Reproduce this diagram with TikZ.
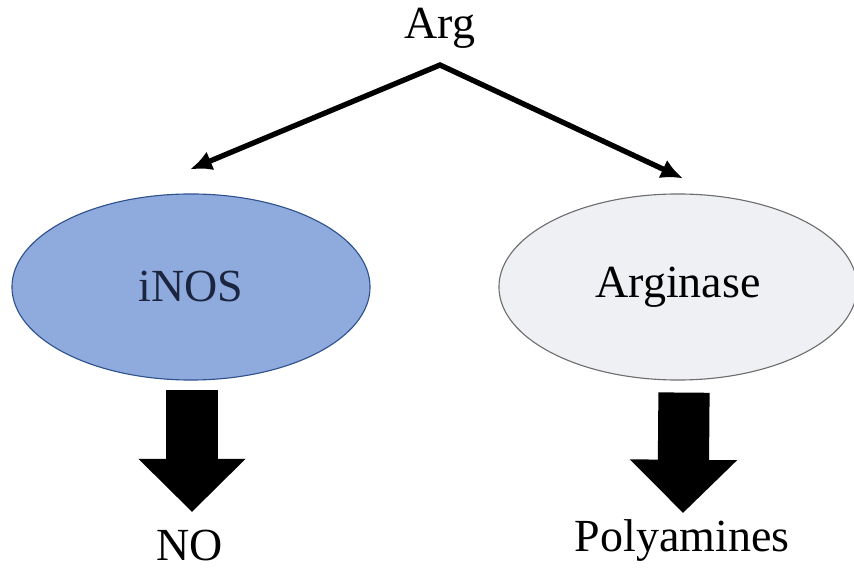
\documentclass[tikz,border=0pt]{standalone}
\usepackage{fontspec}
\setmainfont{Liberation Serif}
\usetikzlibrary{arrows.meta,shapes.geometric}
\definecolor{inosfill}{HTML}{8FAADC}
\definecolor{inosline}{HTML}{2F528F}
\definecolor{inostext}{HTML}{1C2540}
\definecolor{argfill}{HTML}{EFF0F3}
\definecolor{argline}{HTML}{6E6E6E}
\tikzset{
    label/.style={inner sep=0.333em,font=\fontsize{32.7}{36}\selectfont},
    enzyme/.style={ellipse,draw,line width=0.8pt,inner sep=0pt,minimum width=8.95cm,minimum height=4.65cm,font=\fontsize{32.7}{36}\selectfont},
    split/.style={line width=3.8pt,line join=miter,{Latex[length=0.55cm,width=0.5cm]}-{Latex[length=0.55cm,width=0.5cm]}},
    fatarrow/.style={line width=1.28cm,-{Triangle[length=1.33cm,width=2.6cm]}}
}
\begin{document}
\begin{tikzpicture}[x=0.025cm,y=-0.025cm]
                    \useasboundingbox (0,0) rectangle (854,569);
                    % Substrate
                    \node[label] (arg) at (440,28) {Arg};
                    % Enzymes
                    \draw (191,287) node[enzyme,fill=inosfill,draw=inosline,text=inostext] (inos) {iNOS};
                    \draw (678,287) node[enzyme,fill=argfill,draw=argline] (arginase) {Arginase};
                    % Products
                    \node[label] (no) at (190,546) {NO};
                    \node[label] (polyamines) at (682,541) {Polyamines};
                    % Links
                    \draw [split] ([shift={(-1,-24)}]inos.north) -- ([shift={(0,37)}]arg.center) -- ([shift={(5,-15)}]arginase.north);
                    \draw [fatarrow] ([shift={(1,9)}]inos.south) -- ([shift={(2,-34)}]no.center);
                    \draw [fatarrow] ([shift={(6,12)}]arginase.south) -- ([shift={(1,-28)}]polyamines.center);
                \end{tikzpicture}
\end{document}
